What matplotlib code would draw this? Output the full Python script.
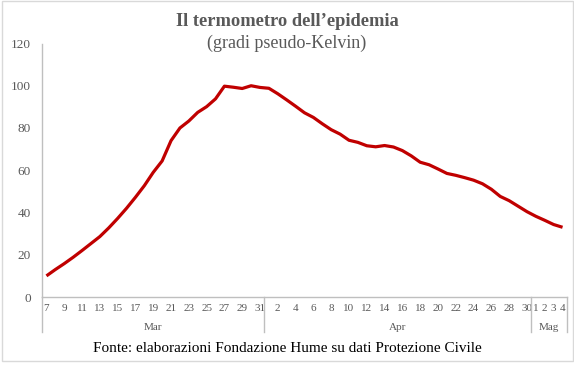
import matplotlib
matplotlib.use('Agg')
import matplotlib.pyplot as plt
from matplotlib.patches import Rectangle

# giorni e valori (7 mar - 4 mag)
mar_days = list(range(7, 32))
apr_days = list(range(1, 31))
mag_days = list(range(1, 5))
months = ['Mar', 'Apr', 'Mag']

mar_vals = [10, 13, 15.8, 18.8, 22, 25.3, 28.6, 32.7, 37.2, 42, 47.2, 52.7, 59,
            64.4, 74, 80, 83.3, 87.4, 90.1, 93.8, 99.8, 99.3, 98.7, 100, 99.2]
apr_vals = [98.8, 96.2, 93.3, 90.3, 87.2, 85, 82, 79.2, 77.1, 74.2, 73.2, 71.6,
            71.1, 71.7, 71, 69.3, 66.8, 63.8, 62.6, 60.6, 58.5, 57.6, 56.5, 55.3,
            53.6, 51, 47.6, 45.6, 43, 40.4]
mag_vals = [38.2, 36.3, 34.3, 33]

yticks = [0, 20, 40, 60, 80, 100, 120]

red = '#C00000'
grey_txt = '#595959'
grey_line = '#BFBFBF'
serif = ['Liberation Serif', 'DejaVu Serif']

values = mar_vals + apr_vals + mag_vals
groups = [mar_days, apr_days, mag_days]
n = len(values)
xs = [i + 0.5 for i in range(n)]

# etichette: un giorno si e uno no, maggio tutti
labels = []
i = 0
for k, days in enumerate(groups):
    for d in days:
        if k == 2 or i % 2 == 0:
            labels.append(str(d))
        else:
            labels.append('')
        i += 1

W, H = 574, 371
fig = plt.figure(figsize=(W / 100, H / 100), dpi=100)
ax = fig.add_axes([42 / W, (H - 297) / H, (567 - 42) / W, (297 - 43.5) / H])

ax.plot(xs, values, color=red, linewidth=2.3, solid_capstyle='butt',
        solid_joinstyle='round')

ax.set_xlim(0, n)
ax.set_ylim(0, 120)
ax.set_yticks(yticks)
ax.set_yticklabels([str(v) for v in yticks], fontsize=9.5, color=grey_txt,
                   family=serif)
ax.tick_params(axis='y', length=0, pad=8)

tick_pos = [x for x, l in zip(xs, labels) if l]
ax.set_xticks(tick_pos)
ax.set_xticklabels([l for l in labels if l], fontsize=8, color=grey_txt,
                   family=serif)
ax.tick_params(axis='x', length=0, pad=5)

for s in ['top', 'right']:
    ax.spines[s].set_visible(False)
for s in ['left', 'bottom']:
    ax.spines[s].set_color(grey_line)
    ax.spines[s].set_linewidth(1)

# separatori dei mesi sotto l'asse
tr = ax.get_xaxis_transform()
ydrop = -(332 - 297) / (297 - 43.5)
ymon = -(327 - 297) / (297 - 43.5)
start = 0
bounds = [0]
for days in groups:
    start += len(days)
    bounds.append(start)
for b in bounds:
    ax.plot([b, b], [0, ydrop], color=grey_line, linewidth=1,
            transform=tr, clip_on=False)
for k, m in enumerate(months):
    ax.text((bounds[k] + bounds[k + 1]) / 2, ymon, m, transform=tr,
            ha='center', va='center', fontsize=8, color=grey_txt,
            family=serif)

fig.text(0.5, (H - 21) / H, 'Il termometro dell\u2019epidemia', ha='center',
         va='center', fontsize=13.3, fontweight='bold', color=grey_txt,
         family=serif)
fig.text(0.5, (H - 43) / H, '(gradi pseudo-Kelvin)', ha='center',
         va='center', fontsize=13, color=grey_txt, family=serif)
fig.text(287 / W, (H - 348) / H,
         'Fonte: elaborazioni Fondazione Hume su dati Protezione Civile',
         ha='center', va='center', fontsize=11, color='black', family=serif)

fig.patches.append(Rectangle((2 / W, (H - 361) / H), 571 / W, 360 / H,
                             transform=fig.transFigure, fill=False,
                             edgecolor='#D9D9D9', linewidth=1))

fig.savefig('out.png', dpi=100)
